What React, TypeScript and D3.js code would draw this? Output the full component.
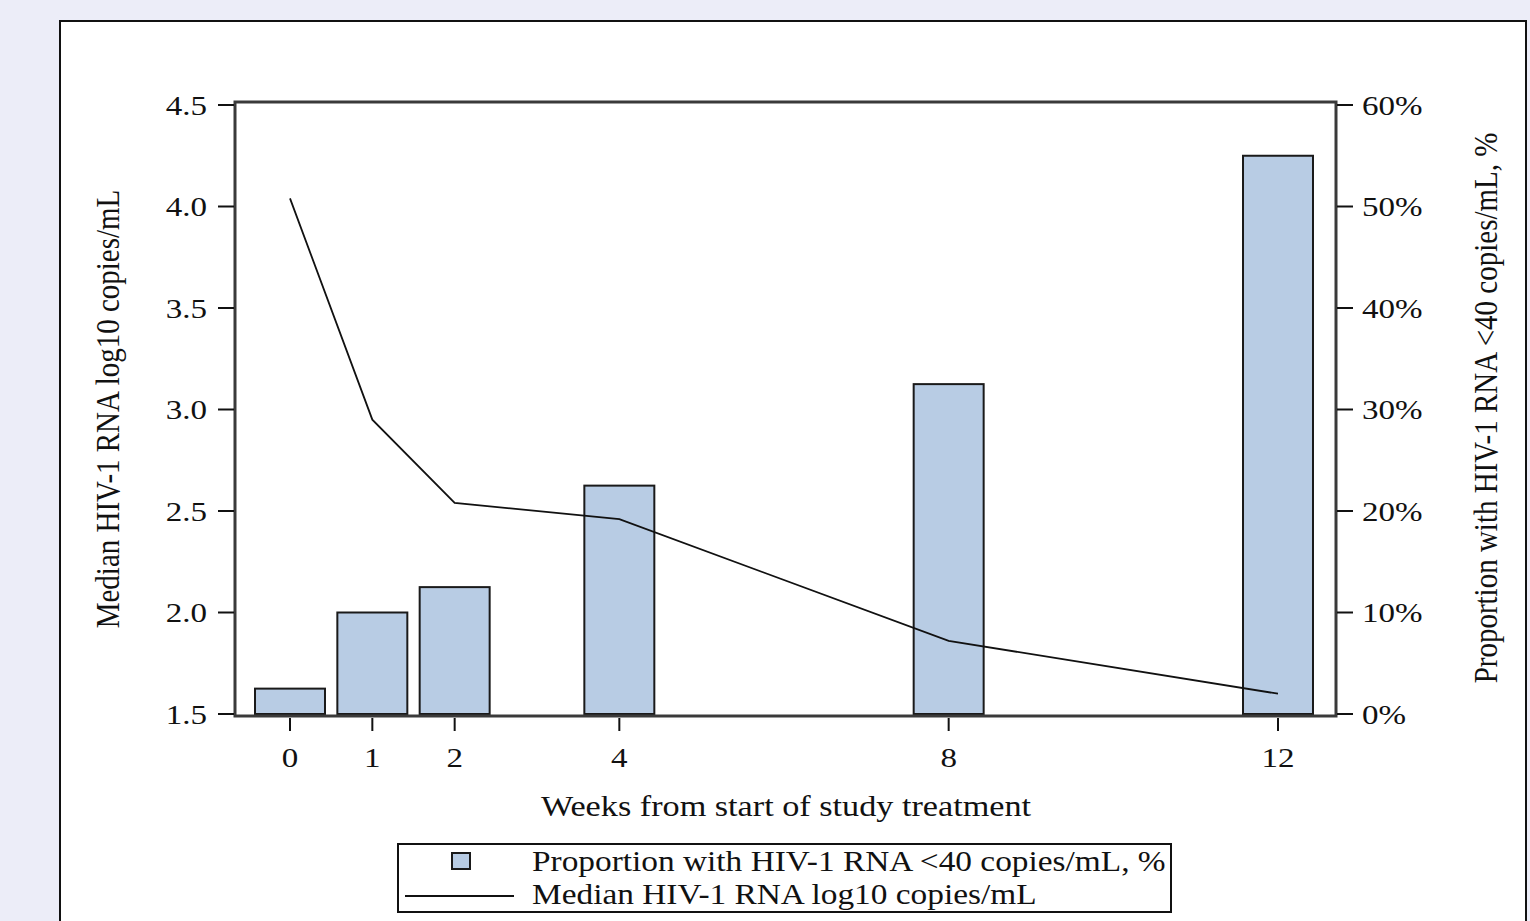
import React from 'react';
import * as d3 from 'd3';

// weeks from start of study treatment
const weeks = [0, 1, 2, 4, 8, 12];
// proportion with HIV-1 RNA <40 copies/mL, %
const proportion = [2.5, 10, 12.5, 22.5, 32.5, 55];
// median HIV-1 RNA log10 copies/mL
const medianRna = [4.04, 2.95, 2.54, 2.46, 1.86, 1.6];

const leftTicks = [1.5, 2.0, 2.5, 3.0, 3.5, 4.0, 4.5];
const rightTicks = [0, 10, 20, 30, 40, 50, 60];

const W = 1530;
const H = 921;
const font = '"Liberation Serif", "Times New Roman", serif';
const SX = 1.18; // the source image is a little wider than tall

const App: React.FC = () => {
  const plot = { left: 235, right: 1336, top: 102, bottom: 716 };

  const x = d3.scaleLinear().domain([0, 12]).range([290, 1278]);
  const yLeft = d3.scaleLinear().domain([1.5, 4.5]).range([714, 105]);
  const yRight = d3.scaleLinear().domain([0, 60]).range([714, 105]);

  const barW = x(0.85) - x(0);

  const line = d3.line<number>()
    .x((_, i) => x(weeks[i]))
    .y(d => yLeft(d));

  return (
    <svg
      width={W}
      height={H}
      style={{ position: 'fixed', left: 0, top: 0, display: 'block' }}
      fontFamily={font}
    >
      <rect x={0} y={0} width={W} height={H} fill="#ecedf8" />
      {/* white panel */}
      <rect x={60} y={21} width={1466} height={H} fill="#fff" stroke="#111" strokeWidth={2} />

      {/* bars */}
      {proportion.map((p, i) => (
        <rect
          key={i}
          x={x(weeks[i]) - barW / 2}
          y={yRight(p)}
          width={barW}
          height={yRight(0) - yRight(p)}
          fill="#b8cce4"
          stroke="#1a1a1a"
          strokeWidth={2}
        />
      ))}

      {/* median line */}
      <path d={line(medianRna) ?? ''} fill="none" stroke="#111" strokeWidth={1.8} />

      {/* plot frame */}
      <rect
        x={plot.left}
        y={plot.top}
        width={plot.right - plot.left}
        height={plot.bottom - plot.top}
        fill="none"
        stroke="#3a3a3a"
        strokeWidth={3}
      />

      {/* left axis */}
      {leftTicks.map(t => (
        <g key={t} transform={`translate(0,${yLeft(t)})`}>
          <line x1={218} x2={234} stroke="#111" strokeWidth={2} />
          <text transform={`translate(207,0) scale(${SX},1)`} dy="0.35em" textAnchor="end" fontSize={28} fill="#111">
            {t.toFixed(1)}
          </text>
        </g>
      ))}

      {/* right axis */}
      {rightTicks.map(t => (
        <g key={t} transform={`translate(0,${yRight(t)})`}>
          <line x1={1337} x2={1353} stroke="#111" strokeWidth={2} />
          <text transform={`translate(1362,0) scale(${SX},1)`} dy="0.35em" textAnchor="start" fontSize={28} fill="#111">
            {`${t}%`}
          </text>
        </g>
      ))}

      {/* bottom axis */}
      {weeks.map(w => (
        <g key={w} transform={`translate(${x(w)},0)`}>
          <line y1={718} y2={731} stroke="#111" strokeWidth={2} />
          <text transform={`translate(0,757) scale(${SX},1)`} dy="0.35em" textAnchor="middle" fontSize={28} fill="#111">
            {w}
          </text>
        </g>
      ))}

      {/* axis titles */}
      <text transform={`translate(786,806) scale(${SX},1)`} dy="0.35em" textAnchor="middle" fontSize={29} fill="#111">
        Weeks from start of study treatment
      </text>
      <text
        transform={`translate(107,409) scale(${SX},1) rotate(-90)`}
        dy="0.35em"
        textAnchor="middle"
        fontSize={29}
        fill="#111"
      >
        Median HIV-1 RNA log10 copies/mL
      </text>
      <text
        transform={`translate(1485,408) scale(${SX},1) rotate(-90)`}
        dy="0.35em"
        textAnchor="middle"
        fontSize={29}
        fill="#111"
      >
        Proportion with HIV-1 RNA &lt;40 copies/mL, %
      </text>

      {/* legend */}
      <rect x={398} y={844} width={773} height={68} fill="#fff" stroke="#111" strokeWidth={2} />
      <rect x={452} y={853} width={18} height={16} fill="#b8cce4" stroke="#1a1a1a" strokeWidth={2} />
      <text transform={`translate(532,861) scale(1.15,1)`} dy="0.35em" fontSize={29} fill="#111">
        Proportion with HIV-1 RNA &lt;40 copies/mL, %
      </text>
      <line x1={405} x2={514} y1={896} y2={896} stroke="#111" strokeWidth={2} />
      <text transform={`translate(532,894) scale(1.15,1)`} dy="0.35em" fontSize={29} fill="#111">
        Median HIV-1 RNA log10 copies/mL
      </text>
    </svg>
  );
};

export default App;
